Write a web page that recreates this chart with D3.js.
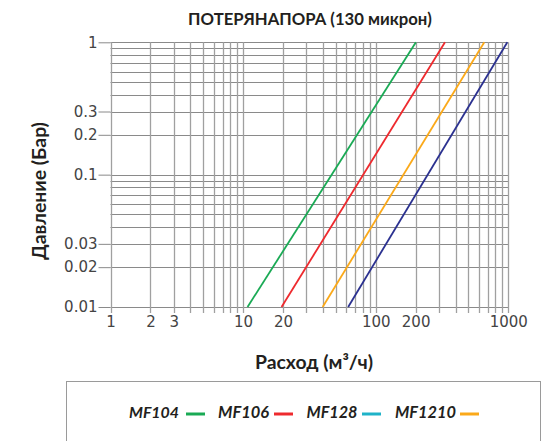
<!DOCTYPE html>
<html><head><meta charset="utf-8">
<script src="https://cdn.jsdelivr.net/npm/d3@7"></script>
<style>body{margin:0;background:#fff}</style>
</head><body>
<script>
const title = "ПОТЕРЯНАПОРА (130 микрон)";
const xLabel = "Расход (м³/ч)";
const yLabel = "Давление (Бар)";
const seriesNames = ["MF104", "MF106", "MF128", "MF1210"];
const lineColors = ["#1aaa55", "#ee2a2e", "#fba919", "#2b3190"];
// each series: flow at 0.01 bar and at 1 bar
const flowStart = [10.8, 19.5, 39.8, 62];
const flowEnd = [201, 333, 659, 983];
const pressStart = [0.01, 0.01, 0.01, 0.01];
const pressEnd = [1, 1, 1, 1];
const legendNames = ["MF104", "MF106", "MF128", "MF1210"];
const legendColors = ["#1aaa55", "#ee2a2e", "#1fb3c8", "#fba919"];
const xTickLabels = [1, 2, 3, 10, 20, 100, 200, 1000];
const yTickLabels = [1, 0.3, 0.2, 0.1, 0.03, 0.02, 0.01];

const W = 556, H = 441;
const svg = d3.select("body").append("svg").attr("width", W).attr("height", H);
const x = d3.scaleLog().domain([1, 1000]).range([110.5, 508.3]);
const y = d3.scaleLog().domain([0.01, 1]).range([307, 42.3]);
const font = "Lato, 'Open Sans', sans-serif";
const tickFont = "'DejaVu Sans', sans-serif";

function fit(sel, width) {
  const w = sel.node().getComputedTextLength();
  const fs = parseFloat(sel.attr("font-size"));
  sel.attr("font-size", (fs * width / w).toFixed(2));
}

// grid values
const xGrid = [], yGrid = [];
for (let d = 1; d < 1000; d *= 10) for (let k = 1; k < 10; k++) xGrid.push(d * k);
xGrid.push(1000);
for (let d = 0.01; d < 0.99; d *= 10) for (let k = 1; k < 10; k++) yGrid.push(+(d * k).toPrecision(3));
yGrid.push(1);

const g = svg.append("g");
g.selectAll(".hg").data(yGrid).join("line")
  .attr("x1", x(1)).attr("x2", x(1000))
  .attr("y1", d => Math.round(y(d)) + 0.5).attr("y2", d => Math.round(y(d)) + 0.5)
  .attr("stroke", "#8a8a8a").attr("stroke-width", 1);
g.selectAll(".vg").data(xGrid).join("line")
  .attr("x1", d => Math.round(x(d)) + 0.5).attr("x2", d => Math.round(x(d)) + 0.5)
  .attr("y1", y(1)).attr("y2", y(0.01) + 6)
  .attr("stroke", "#a0a0a0").attr("stroke-width", 1.3);

// axes
const yAxis = d3.axisLeft(y).tickValues(yTickLabels).tickSize(12).tickPadding(1)
  .tickFormat(d => String(d));
const ya = svg.append("g").attr("transform", `translate(${x(1)},0)`).call(yAxis);
ya.select(".domain").remove();
ya.selectAll(".tick line").attr("stroke", "#8a8a8a");
ya.selectAll(".tick text").attr("font-family", tickFont).attr("font-size", 15).attr("fill", "#444");

const xAxis = d3.axisBottom(x).tickValues(xTickLabels).tickSize(0).tickPadding(9)
  .tickFormat(d => String(d));
const xa = svg.append("g").attr("transform", `translate(0,${y(0.01)})`).call(xAxis);
xa.select(".domain").remove();
xa.selectAll(".tick text").attr("font-family", tickFont).attr("font-size", 15).attr("fill", "#444");

// lines
const line = d3.line().x(d => x(d[0])).y(d => y(d[1]));
seriesNames.forEach((n, i) => {
  svg.append("path")
    .datum([[flowStart[i], pressStart[i]], [flowEnd[i], pressEnd[i]]])
    .attr("d", line).attr("fill", "none")
    .attr("stroke", lineColors[i]).attr("stroke-width", 1.8);
});

// titles
const t1 = svg.append("text").attr("x", 310).attr("y", 24.5).attr("text-anchor", "middle")
  .attr("font-family", font).attr("font-weight", "bold").attr("font-size", 14)
  .attr("fill", "#231f20").text(title);
fit(t1, 244);
const t2 = svg.append("text").attr("x", 314).attr("y", 369).attr("text-anchor", "middle")
  .attr("font-family", font).attr("font-weight", "bold").attr("font-size", 14)
  .attr("fill", "#231f20").text(xLabel);
fit(t2, 118);
const t3 = svg.append("text").attr("transform", "translate(46,191) rotate(-90)").attr("text-anchor", "middle")
  .attr("font-family", font).attr("font-weight", "bold").attr("font-size", 14)
  .attr("fill", "#231f20").text(yLabel);
fit(t3, 138);

// legend box
svg.append("rect").attr("x", 66.5).attr("y", 381.5).attr("width", 474).attr("height", 80)
  .attr("fill", "none").attr("stroke", "#9a9a9a").attr("stroke-width", 1);
const legX = [129, 218, 306.5, 395];
const legW = [50, 51, 51, 61];
const legSw = [186, 274, 362, 460];
legendNames.forEach((n, i) => {
  const t = svg.append("text").attr("x", legX[i]).attr("y", 417.5)
    .attr("font-family", font).attr("font-weight", "bold").attr("font-style", "italic")
    .attr("font-size", 14).attr("fill", "#231f20").text(n);
  fit(t, legW[i]);
  svg.append("line").attr("x1", legSw[i]).attr("x2", legSw[i] + 19)
    .attr("y1", 414).attr("y2", 414).attr("stroke", legendColors[i]).attr("stroke-width", 3);
});
</script>
</body></html>
